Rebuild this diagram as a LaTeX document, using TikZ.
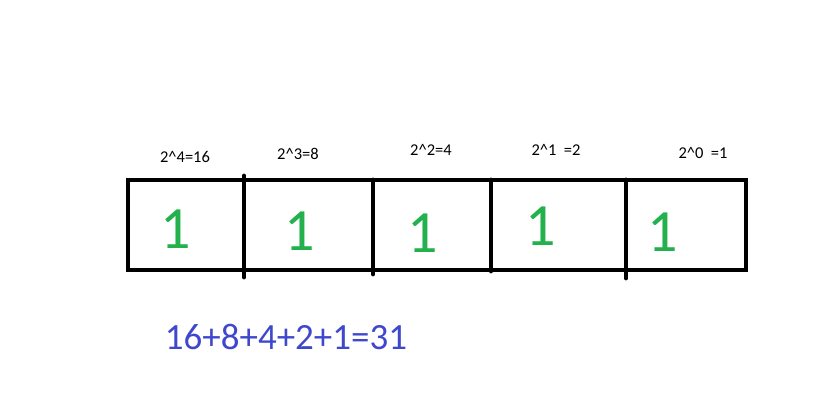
\documentclass[tikz,border=0pt]{standalone}
\usepackage{fontspec}
\setmainfont{Carlito}
\usepackage{xcolor}
\definecolor{bitgreen}{HTML}{22B14C}
\definecolor{sumblue}{HTML}{3F48CC}
\usepackage{tikz}
\usetikzlibrary{positioning}

\begin{document}
\begin{tikzpicture}[x=1pt, y=-1pt,
		power/.style={font=\fontsize{16.5}{19}\selectfont, inner sep=0pt},
		bit/.style={font=\fontsize{60}{70}\selectfont, text=bitgreen, inner sep=0pt},
		total/.style={font=\fontsize{37}{44}\selectfont, text=sumblue, inner sep=0pt},
		wall/.style={line width=4.8pt, line cap=round}]
		\useasboundingbox (0,0) rectangle (838,401);
		%% Register
		\coordinate (nw) at (128,180);
		\coordinate (se) at (746,270);
		\draw [wall, line cap=butt, line join=miter] (nw) rectangle (se);
		\coordinate (d1t) at (244,176); \coordinate (d1b) at (244,277);
		\coordinate (d2t) at (373,180); \coordinate (d2b) at (373,274);
		\coordinate (d3t) at (491,180); \coordinate (d3b) at (491,271);
		\coordinate (d4t) at (626,180); \coordinate (d4b) at (626,278);
		\draw [wall] (d1t) -- (d1b);
		\draw [wall] (d2t) -- (d2b);
		\draw [wall] (d3t) -- (d3b);
		\draw [wall] (d4t) -- (d4b);
		%% Place values
		\node [power] (p4) at (185,157) {2\textasciicircum4=16};
		\node [power] (p3) at (298,154) {2\textasciicircum3=8};
		\node [power] (p2) at (431,150) {2\textasciicircum2=4};
		\node [power] (p1) at (556,150) {2\textasciicircum1\ \ =2};
		\node [power] (p0) at (703,153) {2\textasciicircum0\ \ =1};
		%% Bits
		\node [bit] (b4) at (176,229) {1};
		\node [bit] (b3) at (300,231) {1};
		\node [bit] (b2) at (423,233) {1};
		\node [bit] (b1) at (541,226) {1};
		\node [bit] (b0) at (663,232) {1};
		%% Sum
		\node [total] (sum) at (286,337) {16+8+4+2+1=31};
\end{tikzpicture}
\end{document}
